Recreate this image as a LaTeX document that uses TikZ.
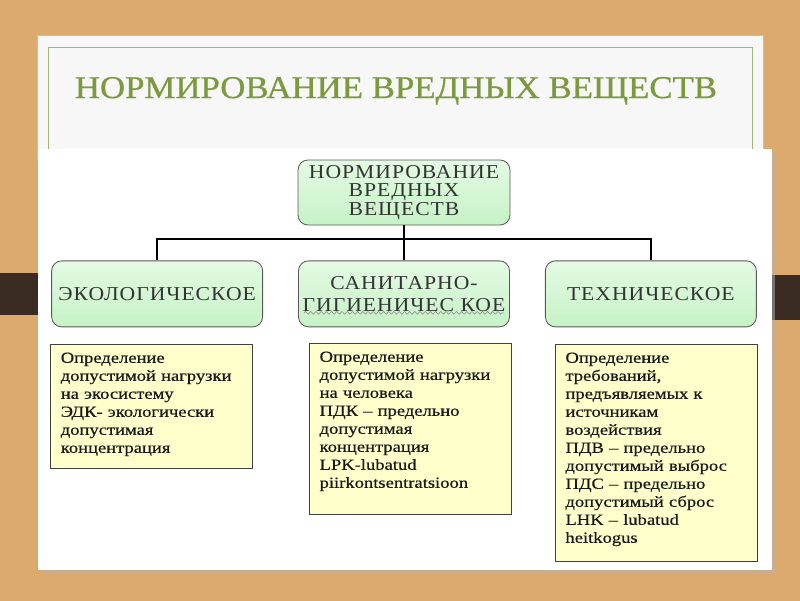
\documentclass[tikz,border=0pt]{standalone}
\usepackage{fontspec}
\setmainfont{Liberation Serif}
\newfontfamily\leaffont[FakeStretch=1.2,FakeBold=0.5]{Liberation Serif}
\newfontfamily\boxfont[FakeStretch=1.1,LetterSpace=5]{Liberation Serif}
\newfontfamily\titlefont[FakeStretch=1.1,FakeBold=0.8]{Liberation Serif}
\usepackage{tikz}
\usetikzlibrary{positioning,calc,decorations.pathmorphing}

\definecolor{bglight}{HTML}{F2D3A2}
\definecolor{bgdark}{HTML}{DDAA6E}
\definecolor{bandbrown}{HTML}{3A2C22}
\definecolor{framegrn}{HTML}{A2B57A}
\definecolor{ttlgreen}{HTML}{7B9A3E}
\definecolor{grntop}{HTML}{E4FAE4}
\definecolor{grnbot}{HTML}{C6F2C6}
\definecolor{leafyel}{HTML}{FFFFCC}

\begin{document}
\begin{tikzpicture}[x=0.25mm,y=-0.25mm,node distance=8.75mm,
 head/.style={draw=black!65,line width=0.6pt,rounded corners=2.5mm,top color=grntop,bottom color=grnbot,
  minimum width=53mm,minimum height=16.25mm,inner sep=0pt,align=center,text=black!80,
  font=\boxfont\fontsize{14}{13.2}\selectfont},
 branch/.style={head,minimum width=52.75mm,minimum height=16.5mm,font=\boxfont\fontsize{14}{15.6}\selectfont},
 leaf/.style={draw=black!75,line width=0.8pt,fill=leafyel,anchor=north west,inner xsep=2.5mm,inner ysep=1.5mm,
  text width=45.5mm,text height=3mm,align=left,text=black!90,font=\leaffont\fontsize{11}{12.8}\selectfont},
 conn/.style={line width=1.4pt}]
\useasboundingbox (0,0) rectangle (800,600);
% slide background
\shade[left color=bgdark,middle color=bglight,right color=bgdark] (0,0) rectangle (800,600);
\fill[bandbrown] (0,273) rectangle (40,315);
\fill[bandbrown] (772,275) rectangle (800,320);
\filldraw[fill=black!3,draw=black!25] (37,35) rectangle (763,160);
\draw[framegrn,line width=0.6pt] (48,47) rectangle (752,200);
\node[font=\titlefont\fontsize{22.5}{26}\selectfont,text=ttlgreen,anchor=base] (title) at (396,98) {НОРМИРОВАНИЕ ВРЕДНЫХ ВЕЩЕСТВ};
\fill[black!30,opacity=0.5] (41,152) rectangle (775,574);
\fill[white] (38,149) rectangle (772,570);

% tree
\node[head] (top) at (404,192.5) {НОРМИРОВАНИЕ\\ВРЕДНЫХ\\ВЕЩЕСТВ};
\node[branch,below=of top] (san) {САНИТАРНО-\\ГИГИЕНИЧЕС\ КОЕ};
\node[branch,left=of san] (eco) {ЭКОЛОГИЧЕСКОЕ};
\node[branch,right=of san] (tech) {ТЕХНИЧЕСКОЕ};
\coordinate (bus) at ($(top.south)!0.4!(san.north)$);
\draw[conn] (top) -- (san);
\draw[conn] (eco.north) |- (bus) -| (tech.north);
\draw[black!45,decorate,decoration={snake,amplitude=0.35mm,segment length=1.3mm}]
 ($(san.center)+(-100,19)$) -- ($(san.center)+(100,19)$);

% descriptions
\node[leaf,text depth=25mm] (ecotxt) at ($(eco.south west)+(-1,17)$)
 {Определение\\допустимой нагрузки\\на экосистему\\ЭДК- экологически\\допустимая\\концентрация};
\node[leaf,text depth=36.75mm] (santxt) at ($(san.south west)+(11,16)$)
 {Определение\\допустимой нагрузки\\на человека\\ПДК – предельно\\допустимая\\концентрация\\LPK-lubatud\\piirkontsentratsioon};
\node[leaf,text depth=48.25mm] (techtxt) at ($(tech.south west)+(10,17)$)
 {Определение\\требований,\\предъявляемых к\\источникам\\воздействия\\ПДВ – предельно\\допустимый выброс\\ПДС – предельно\\допустимый сброс\\LHK – lubatud\\heitkogus};
\end{tikzpicture}
\end{document}
